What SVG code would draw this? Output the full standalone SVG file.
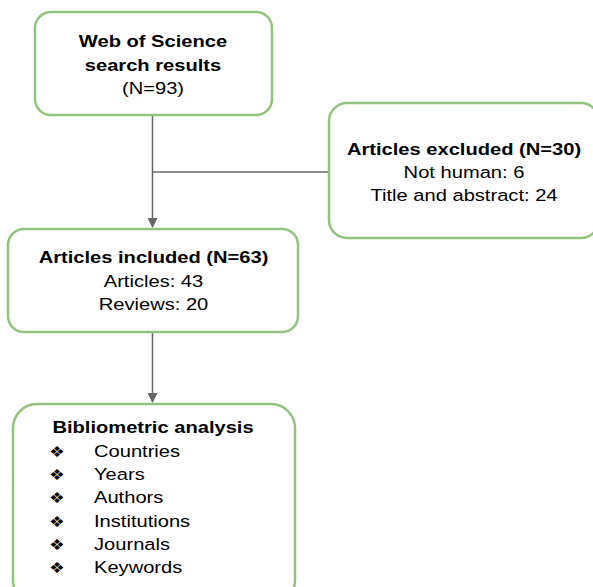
<svg xmlns="http://www.w3.org/2000/svg" width="593" height="587" viewBox="0 0 593 587">
<defs>
<style>
.box{fill:#ffffff;stroke:#93c47d;stroke-width:2.5}
.t{font-family:"Liberation Sans",Arial,sans-serif;font-size:16.5px;fill:#000;text-anchor:middle}
.b{font-weight:bold}
.l{text-anchor:start}
.bul{font-family:"DejaVu Sans",sans-serif;font-size:15px;fill:#000;text-anchor:middle}
.c{stroke:#666666;stroke-width:1.5;fill:none}
</style>
<marker id="ah" markerWidth="10" markerHeight="10" refX="9" refY="5" orient="auto" markerUnits="userSpaceOnUse" viewBox="0 0 10 10">
<path d="M0,0 L10,5 L0,10 z" fill="#666666"/>
</marker>
</defs>
<rect width="593" height="587" fill="#ffffff"/>
<g id="connectors">
<line class="c" x1="152.5" y1="115" x2="152.5" y2="227" marker-end="url(#ah)"/>
<line class="c" x1="152.5" y1="172" x2="328" y2="172"/>
<line class="c" x1="152.5" y1="333" x2="152.5" y2="402" marker-end="url(#ah)"/>
</g>
<g id="wos">
<rect class="box" x="35" y="12" width="237" height="103" rx="16"/>
<g transform="translate(153 0) scale(1.22 1)">
<text class="t b" x="0" y="47">Web of Science</text>
<text class="t b" x="0" y="71">search results</text>
<text class="t" x="0" y="94">(N=93)</text>
</g>
</g>
<g id="excluded">
<rect class="box" x="329" y="103" width="270" height="135" rx="18"/>
<g transform="translate(464 0) scale(1.22 1)">
<text class="t b" x="0" y="155">Articles excluded (N=30)</text>
<text class="t" x="0" y="178">Not human: 6</text>
<text class="t" x="0" y="201">Title and abstract: 24</text>
</g>
</g>
<g id="included">
<rect class="box" x="8" y="229" width="290" height="103" rx="16"/>
<g transform="translate(153.5 0) scale(1.22 1)">
<text class="t b" x="0" y="263">Articles included (N=63)</text>
<text class="t" x="0" y="287">Articles: 43</text>
<text class="t" x="0" y="310">Reviews: 20</text>
</g>
</g>
<g id="analysis">
<rect class="box" x="13" y="404" width="282" height="200" rx="24"/>
<g transform="translate(153 0) scale(1.22 1)">
<text class="t b" x="0" y="433">Bibliometric analysis</text>
</g>
<g transform="translate(57 0) scale(1.15 1)">
<text class="bul" x="0" y="457">❖</text>
<text class="bul" x="0" y="480">❖</text>
<text class="bul" x="0" y="503">❖</text>
<text class="bul" x="0" y="527">❖</text>
<text class="bul" x="0" y="550">❖</text>
<text class="bul" x="0" y="573">❖</text>
</g>
<g transform="translate(94 0) scale(1.22 1)">
<text class="t l" x="0" y="457">Countries</text>
<text class="t l" x="0" y="480">Years</text>
<text class="t l" x="0" y="503">Authors</text>
<text class="t l" x="0" y="527">Institutions</text>
<text class="t l" x="0" y="550">Journals</text>
<text class="t l" x="0" y="573">Keywords</text>
</g>
</g>
</svg>
